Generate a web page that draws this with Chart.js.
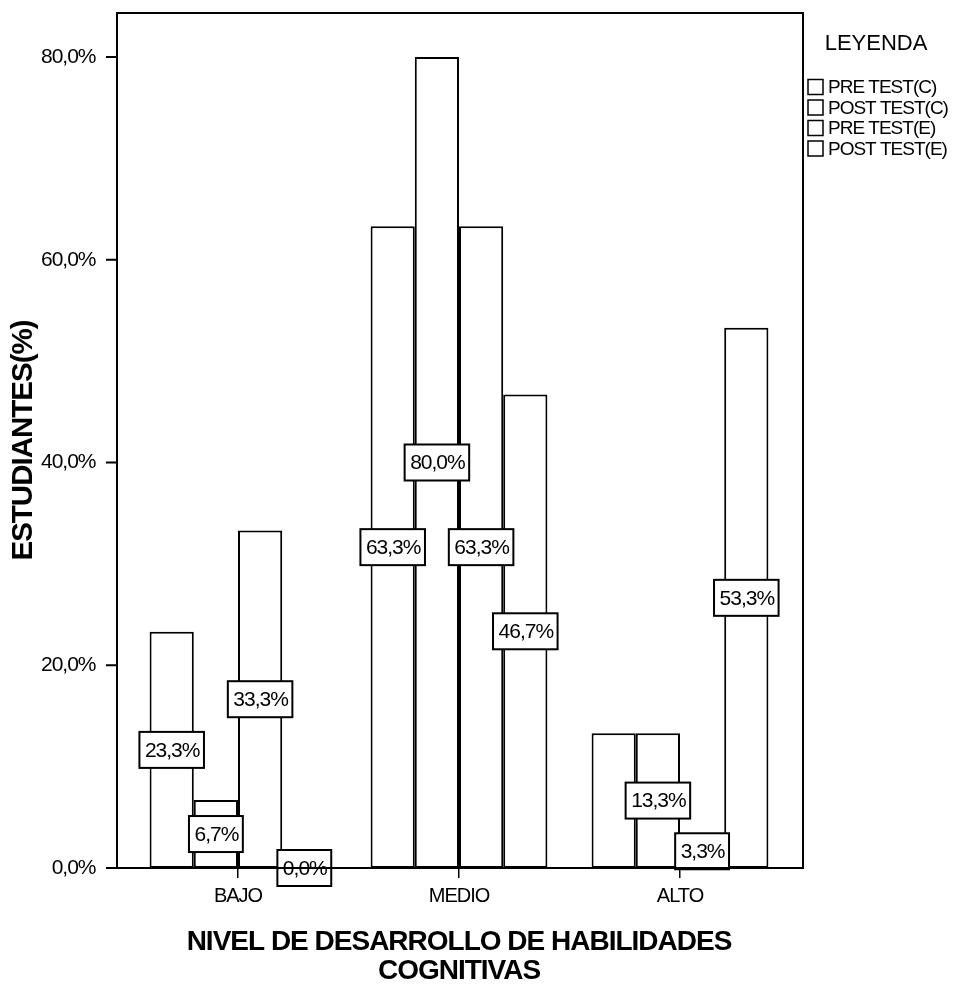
<!DOCTYPE html>
<html>
<head>
<meta charset="utf-8">
<title>Nivel de desarrollo de habilidades cognitivas</title>
<script src="https://cdn.jsdelivr.net/npm/chart.js@4.4.1/dist/chart.umd.min.js"></script>
<style>
  body { margin: 0; background: #fff; }
  canvas { display: block; }
</style>
</head>
<body>
<canvas id="chart" width="954" height="986"></canvas>
<script>
// Data (percent of students)
const categories = ['BAJO', 'MEDIO', 'ALTO'];
const seriesNames = ['PRE TEST(C)', 'POST TEST(C)', 'PRE TEST(E)', 'POST TEST(E)'];
const preTestC = [23.3, 63.3, 13.3];
const postTestC = [6.7, 80.0, 13.3];
const preTestE = [33.3, 63.3, 3.3];
const postTestE = [0.0, 46.7, 53.3];
const yTickValues = [0, 20, 40, 60, 80];

const SANS = "'Liberation Sans', Arial, sans-serif";
const TIGHT = '-1px'; // the original uses a narrow font, squeeze Arial a little

function pct(v) {
  return v.toFixed(1).replace('.', ',') + '%';
}

// tighter letters for every text chart.js draws
const tightText = {
  id: 'tightText',
  beforeUpdate(chart) { chart.ctx.letterSpacing = TIGHT; },
  beforeDraw(chart) { chart.ctx.letterSpacing = TIGHT; }
};

// frame around the plot, a bit wider than the bar area (like SPSS)
const framePlugin = {
  id: 'frame',
  afterDraw(chart) {
    const ctx = chart.ctx;
    const a = chart.chartArea;
    const left = a.left - 10.5, right = a.right + 12.5;
    ctx.save();
    ctx.strokeStyle = '#000';
    ctx.lineWidth = 2;
    ctx.strokeRect(left, a.top, right - left, a.bottom - a.top);
    // y tick marks
    const y = chart.scales.y;
    ctx.beginPath();
    yTickValues.forEach(v => {
      const py = y.getPixelForValue(v);
      ctx.moveTo(left - 11, py);
      ctx.lineTo(left, py);
    });
    ctx.stroke();
    ctx.restore();
  }
};

// boxed value labels in the middle of each bar, skipping ones that collide
const valueLabels = {
  id: 'valueLabels',
  afterDatasetsDraw(chart) {
    const ctx = chart.ctx;
    ctx.save();
    ctx.letterSpacing = TIGHT;
    ctx.font = '21px ' + SANS;
    const items = [];
    chart.data.datasets.forEach((ds, i) => {
      chart.getDatasetMeta(i).data.forEach((bar, j) => {
        const text = pct(ds.data[j]);
        const w = ctx.measureText(text).width + 10;
        const h = 36;
        const cx = bar.x, cy = (bar.y + bar.base) / 2;
        items.push({ text, x: cx - w / 2, y: cy - h / 2, w, h, cx, cy });
      });
    });
    const placed = [];
    for (let k = items.length - 1; k >= 0; k--) {
      const it = items[k];
      const hit = placed.some(p => it.x < p.x + p.w && p.x < it.x + it.w && it.y < p.y + p.h && p.y < it.y + it.h);
      if (!hit) placed.push(it);
    }
    placed.forEach(it => {
      ctx.fillStyle = '#fff';
      ctx.fillRect(it.x, it.y, it.w, it.h);
      ctx.strokeStyle = '#000';
      ctx.lineWidth = 2;
      ctx.strokeRect(it.x, it.y, it.w, it.h);
      ctx.fillStyle = '#000';
      ctx.textAlign = 'center';
      ctx.textBaseline = 'middle';
      ctx.fillText(it.text, it.cx + 0.5, it.cy + 1);
    });
    ctx.restore();
  }
};

// legend on the right with a title
const legendPlugin = {
  id: 'leyenda',
  afterDraw(chart) {
    const ctx = chart.ctx;
    const a = chart.chartArea;
    const x0 = a.right + 17.5;
    ctx.save();
    ctx.fillStyle = '#000';
    ctx.letterSpacing = '0px';
    ctx.font = '22px ' + SANS;
    ctx.textAlign = 'center';
    ctx.textBaseline = 'middle';
    ctx.fillText('LEYENDA', x0 + 68, 44);
    ctx.letterSpacing = TIGHT;
    ctx.font = '19px ' + SANS;
    ctx.textAlign = 'left';
    chart.data.datasets.forEach((ds, i) => {
      const cy = 87 + i * 20.5;
      ctx.fillStyle = '#fff';
      ctx.fillRect(x0, cy - 7.5, 15, 15);
      ctx.strokeStyle = '#000';
      ctx.lineWidth = 1.5;
      ctx.strokeRect(x0, cy - 7.5, 15, 15);
      ctx.fillStyle = '#000';
      ctx.fillText(ds.label, x0 + 20, cy + 1);
    });
    ctx.restore();
  }
};

function makeDataset(label, values) {
  return {
    label: label,
    data: values,
    backgroundColor: '#fff',
    borderColor: '#000',
    borderWidth: 2,
    borderSkipped: false,
    categoryPercentage: 0.8,
    barPercentage: 1.0
  };
}

const ctx = document.getElementById('chart').getContext('2d');
new Chart(ctx, {
  type: 'bar',
  data: {
    labels: categories,
    datasets: [
      makeDataset(seriesNames[0], preTestC),
      makeDataset(seriesNames[1], postTestC),
      makeDataset(seriesNames[2], preTestE),
      makeDataset(seriesNames[3], postTestE)
    ]
  },
  options: {
    responsive: false,
    devicePixelRatio: 1,
    animation: false,
    layout: { padding: { top: 13, right: 163.5, bottom: 0, left: 0 } },
    plugins: {
      legend: { display: false },
      tooltip: { enabled: false }
    },
    scales: {
      x: {
        offset: true,
        grid: { display: true, drawOnChartArea: false, drawTicks: true, tickLength: 10, offset: false, color: '#000', lineWidth: 1.5 },
        border: { display: false },
        ticks: { color: '#000', padding: 6, font: { family: SANS, size: 20 } },
        title: {
          display: true,
          text: ['NIVEL DE DESARROLLO DE HABILIDADES', 'COGNITIVAS'],
          color: '#000',
          font: { family: SANS, size: 28, weight: 'bold', lineHeight: 1.04 },
          padding: { top: 0, bottom: 0 }
        },
        afterFit(scale) {
          scale.height = 118;
          scale.paddingLeft = 0;
          scale.paddingRight = 0;
        }
      },
      y: {
        min: 0,
        max: 84.34,
        grid: { display: false },
        border: { display: false },
        ticks: {
          stepSize: 20,
          includeBounds: false,
          color: '#000',
          padding: 24,
          font: { family: SANS, size: 21 },
          callback: v => pct(v)
        },
        title: {
          display: true,
          text: 'ESTUDIANTES(%)',
          color: '#000',
          font: { family: SANS, size: 29.5, weight: 'bold', lineHeight: 1.2 },
          padding: { top: 6, bottom: 0 }
        },
        afterFit(scale) {
          scale.width = 127.5;
          scale.paddingTop = 0;
          scale.paddingBottom = 0;
        }
      }
    }
  },
  plugins: [tightText, framePlugin, valueLabels, legendPlugin]
});
</script>
</body>
</html>
